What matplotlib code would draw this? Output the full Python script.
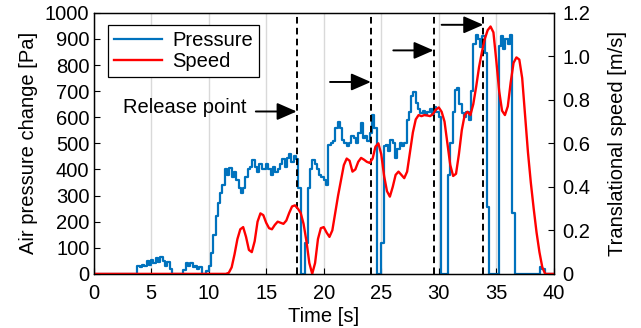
import numpy as np
import matplotlib
matplotlib.use('Agg')
import matplotlib.pyplot as plt
from matplotlib.ticker import FixedLocator, FixedFormatter

plt.rcParams['font.family'] = ['Liberation Sans', 'DejaVu Sans']
plt.rcParams['font.size'] = 14.5

# air pressure change [Pa], one reading every 0.2 s from 0 to 40 s
p_step = 0.2
pressure = [
    0, 0, 0, 0, 0, 0, 0, 0, 0, 0, 0, 0, 0, 0, 0, 0, 0, 0, 0, 30, 25, 35, 30, 50, 35,
    55, 40, 60, 45, 65, 50, 30, 45, 20, 0, 0, 0, 0, 0, 15, 40, 30, 42, 25, 30, 20, 25, 0, 0, 10,
    30, 80, 150, 220, 270, 310, 340, 400, 380, 405, 370, 390, 360, 330, 310, 330, 370, 400, 410, 437, 410, 390, 420, 400, 400,
    420, 400, 380, 410, 390, 400, 420, 440, 410, 445, 460, 430, 450, 440, 330, 0, 0, 120, 330, 400, 437, 420, 400, 380, 370,
    360, 340, 494, 500, 510, 560, 580, 560, 513, 500, 488, 500, 530, 520, 500, 540, 577, 520, 530, 510, 540, 609, 560, 0, 0,
    120, 488, 495, 470, 513, 500, 443, 480, 500, 490, 500, 590, 620, 680, 698, 655, 630, 615, 625, 610, 620, 630, 610, 640, 620,
    600, 0, 0, 0, 380, 500, 620, 705, 713, 650, 617, 600, 620, 590, 700, 880, 916, 900, 870, 910, 846, 257, 0, 0, 0,
    0, 871, 910, 860, 900, 880, 916, 233, 0, 0, 0, 0, 0, 0, 0, 0, 0, 0, 0, 25, 20, 0, 0, 0, 0,
    0,
]

# translational speed [m/s], one reading every 0.25 s from 0 to 40 s
s_step = 0.25
speed = [
    0, 0, 0, 0, 0, 0, 0, 0, 0, 0, 0, 0, 0, 0, 0, 0, 0, 0, 0, 0,
    0, 0, 0, 0, 0, 0, 0, 0, 0, 0, 0, 0, 0, 0, 0, 0, 0, 0, 0, 0,
    0, 0, 0, 0, 0, 0, 0, 0.005,
    0.03, 0.09, 0.16, 0.205, 0.215, 0.17, 0.11, 0.10, 0.15, 0.24, 0.278, 0.27,
    0.235, 0.21, 0.205, 0.225, 0.24, 0.235, 0.23, 0.245, 0.28, 0.31, 0.315, 0.30,
    0.28, 0.23, 0.15, 0.05, 0.0, 0.05, 0.16, 0.21, 0.215, 0.19, 0.17, 0.20,
    0.28, 0.36, 0.43, 0.50, 0.53, 0.52, 0.47, 0.48, 0.515, 0.533, 0.525, 0.515,
    0.51, 0.53, 0.585, 0.60, 0.55, 0.45, 0.38, 0.355, 0.40, 0.455, 0.47, 0.455,
    0.44, 0.47, 0.56, 0.65, 0.71, 0.73, 0.725, 0.73, 0.728, 0.725, 0.735, 0.755,
    0.765, 0.745, 0.70, 0.60, 0.50, 0.45, 0.46, 0.55, 0.66, 0.73, 0.745, 0.73,
    0.78, 0.86, 0.95, 1.02, 1.08, 1.12, 1.137, 1.11, 0.98, 0.84, 0.75, 0.73,
    0.77, 0.88, 0.97, 0.995, 0.985, 0.90, 0.73, 0.56, 0.42, 0.30, 0.19, 0.10,
    0.03, 0.0, 0.0, 0.0, 0.0,
]

release_times = [17.65, 24.1, 29.55, 33.87]
arrow_tails = [14.1, 20.55, 26.05, 30.25]
arrow_levels = [622, 735, 856, 954]

t_p = np.arange(len(pressure)) * p_step
t_s = np.arange(len(speed)) * s_step

fig = plt.figure(figsize=(6.41, 3.28), dpi=100)
ax = fig.add_axes([0.146, 0.165, 0.718, 0.796])
ax2 = ax.twinx()

ax.set_axisbelow(True)
ax.grid(axis='x', color='#d9d9d9', lw=1.0)
l1, = ax.plot(t_p, pressure, drawstyle='steps-post', color='#0072BD', lw=1.6, label='Pressure')
l2, = ax2.plot(t_s, speed, color='#FF0000', lw=1.7, label='Speed')

for t in release_times:
    ax.axvline(t, color='k', lw=1.4, ls=(0, (3.4, 2.2)), zorder=3)
for tail, tip, lev in zip(arrow_tails, release_times, arrow_levels):
    ax.annotate('', xy=(tip, lev), xytext=(tail, lev),
                arrowprops=dict(arrowstyle='-|>,head_length=0.8,head_width=0.35',
                                color='k', lw=1.4, mutation_scale=15,
                                shrinkA=0, shrinkB=0))
ax.text(13.25, 636, 'Release point', ha='right', va='center')

ax.set_xlim(0, 40)
ax.set_ylim(0, 1000)
ax2.set_ylim(0, 1.2)
ax.set_xticks(np.arange(0, 41, 5))
ax.set_yticks(np.arange(0, 1001, 100))
ax2.yaxis.set_major_locator(FixedLocator([0, 0.2, 0.4, 0.6, 0.8, 1.0, 1.2]))
ax2.yaxis.set_major_formatter(FixedFormatter(['0', '0.2', '0.4', '0.6', '0.8', '1.0', '1.2']))
ax.tick_params(axis='y', direction='in', length=4, width=0.8, pad=3)
ax.tick_params(axis='x', direction='in', length=4, width=0.8, pad=7)
ax2.tick_params(direction='in', length=4, width=0.8, pad=6)
for a in (ax, ax2):
    for sp in a.spines.values():
        sp.set_linewidth(0.9)

ax.set_xlabel('Time [s]', labelpad=3)
ax.set_ylabel('Air pressure change [Pa]', labelpad=5)
ax2.set_ylabel('Translational speed [m/s]', labelpad=13)

leg = ax.legend([l1, l2], ['Pressure', 'Speed'], loc='upper left',
                bbox_to_anchor=(0.031, 0.955), fancybox=False, edgecolor='k',
                framealpha=1, handlelength=2.4, handletextpad=0.5,
                labelspacing=0.1, borderpad=0.3, borderaxespad=0)
leg.get_frame().set_linewidth(0.9)

fig.savefig('out.png', dpi=100)
